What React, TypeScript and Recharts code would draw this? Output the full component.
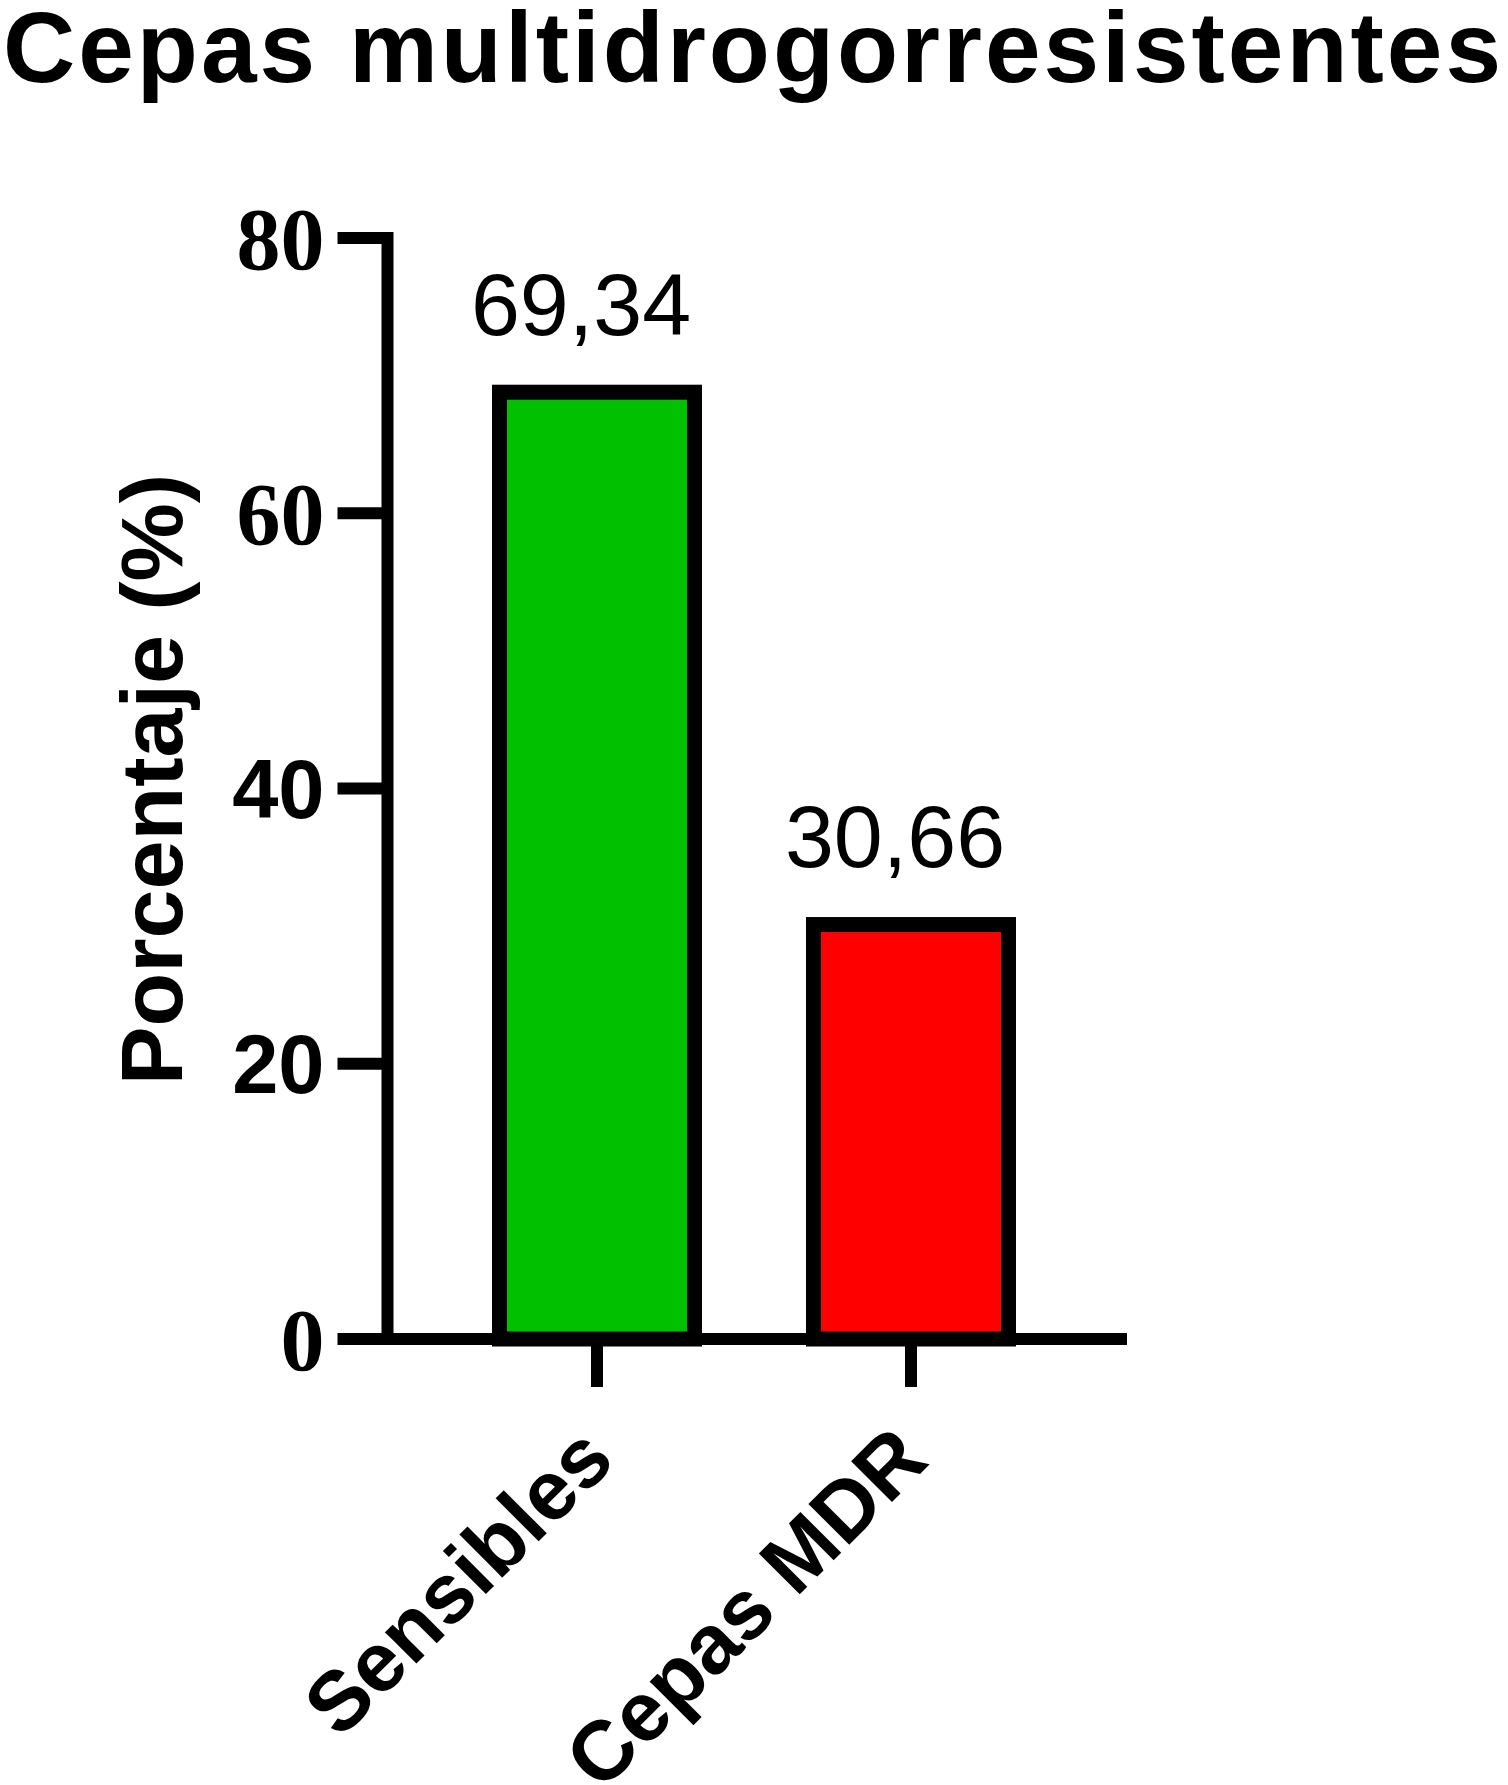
import React from 'react';
import { BarChart, Bar, XAxis, YAxis, Cell, LabelList } from 'recharts';

const title = 'Cepas multidrogorresistentes';
const yAxisTitle = 'Porcentaje (%)';
const categories = ['Sensibles', 'Cepas MDR'];
const values = [69.34, 30.66];
const barColors = ['#00C000', '#FF0000'];
const yTicks = [0, 20, 40, 60, 80];
const serifTicks = [0, 60, 80];

const data = categories.map((name, i) => ({ name, value: values[i], fill: barColors[i] }));

const SANS = '"Liberation Sans", Arial, sans-serif';
const SERIF = '"Liberation Serif", "Times New Roman", serif';
const BORDER = 15;

const BorderedBar = (props: any) => {
  const { x, y, width, height, fill } = props;
  if (width == null || height == null) return null;
  const h = BORDER / 2;
  return (
    <rect
      x={x + h}
      y={y + h}
      width={Math.max(0, width - BORDER)}
      height={Math.max(0, height - h)}
      fill={fill}
      stroke="#000"
      strokeWidth={BORDER}
    />
  );
};

const YTick = (props: any) => {
  const { x, y, payload } = props;
  const serif = serifTicks.includes(payload.value);
  return (
    <text
      x={x}
      y={y}
      dy="0.355em"
      textAnchor="end"
      fontFamily={serif ? SERIF : SANS}
      fontWeight="bold"
      fontSize={serif ? 88 : 83}
      fill="#000"
    >
      {payload.value}
    </text>
  );
};

const XTick = (props: any) => {
  const { x, y, payload } = props;
  const ax = x + 20;
  const ay = y + 76;
  return (
    <text
      x={ax}
      y={ay}
      textAnchor="end"
      transform={`rotate(-45, ${ax}, ${ay})`}
      fontFamily={SANS}
      fontWeight="bold"
      fontSize={84}
      fill="#000"
    >
      {payload.value}
    </text>
  );
};

const ValueLabel = (props: any) => {
  const { x, y, width, value } = props;
  const text = Number(value).toFixed(2).replace('.', ',');
  return (
    <text
      x={x + width / 2 - 16}
      y={y - 50}
      textAnchor="middle"
      fontFamily={SANS}
      fontSize={88}
      fill="#000"
    >
      {text}
    </text>
  );
};

const YLabel = (props: any) => {
  const vb = props.viewBox || {};
  const cx = vb.x - 5.5;
  const cy = vb.y + vb.height / 2 - 9;
  return (
    <text
      x={cx}
      y={cy}
      textAnchor="middle"
      transform={`rotate(-90, ${cx}, ${cy})`}
      fontFamily={SANS}
      fontWeight="bold"
      fontSize={88}
      fill="#000"
    >
      {yAxisTitle}
    </text>
  );
};

export default function App() {
  return (
    <div style={{ position: 'absolute', left: 0, top: 0, width: 1508, height: 1785, background: '#fff' }}>
      <svg width={1508} height={140} style={{ position: 'absolute', left: 0, top: 0 }}>
        <text x={3} y={82} fontFamily={SANS} fontWeight="bold" fontSize={100} letterSpacing={3.0} fill="#000">
          {title}
        </text>
      </svg>
      <div style={{ position: 'absolute', left: 0, top: 0 }}>
        <BarChart
          width={1508}
          height={1785}
          data={data}
          margin={{ top: 238, right: 387, bottom: 346, left: 187.5 }}
          barCategoryGap={0}
        >
          <XAxis
            dataKey="name"
            height={100}
            padding={{ left: 52.5, right: 53 }}
            axisLine={{ stroke: '#000', strokeWidth: 12, strokeLinecap: 'square' }}
            tickLine={{ stroke: '#000', strokeWidth: 12 }}
            tickSize={48}
            tickMargin={0}
            tick={<XTick />}
            interval={0}
          />
          <YAxis
            width={200}
            domain={[0, 80]}
            ticks={yTicks}
            axisLine={{ stroke: '#000', strokeWidth: 12, strokeLinecap: 'square' }}
            tickLine={{ stroke: '#000', strokeWidth: 12 }}
            tickSize={50}
            tickMargin={13}
            tick={<YTick />}
            label={<YLabel />}
          />
          <Bar dataKey="value" barSize={210} shape={<BorderedBar />} isAnimationActive={false}>
            {data.map((d, i) => (
              <Cell key={i} fill={d.fill} />
            ))}
            <LabelList dataKey="value" content={<ValueLabel />} />
          </Bar>
        </BarChart>
      </div>
    </div>
  );
}
